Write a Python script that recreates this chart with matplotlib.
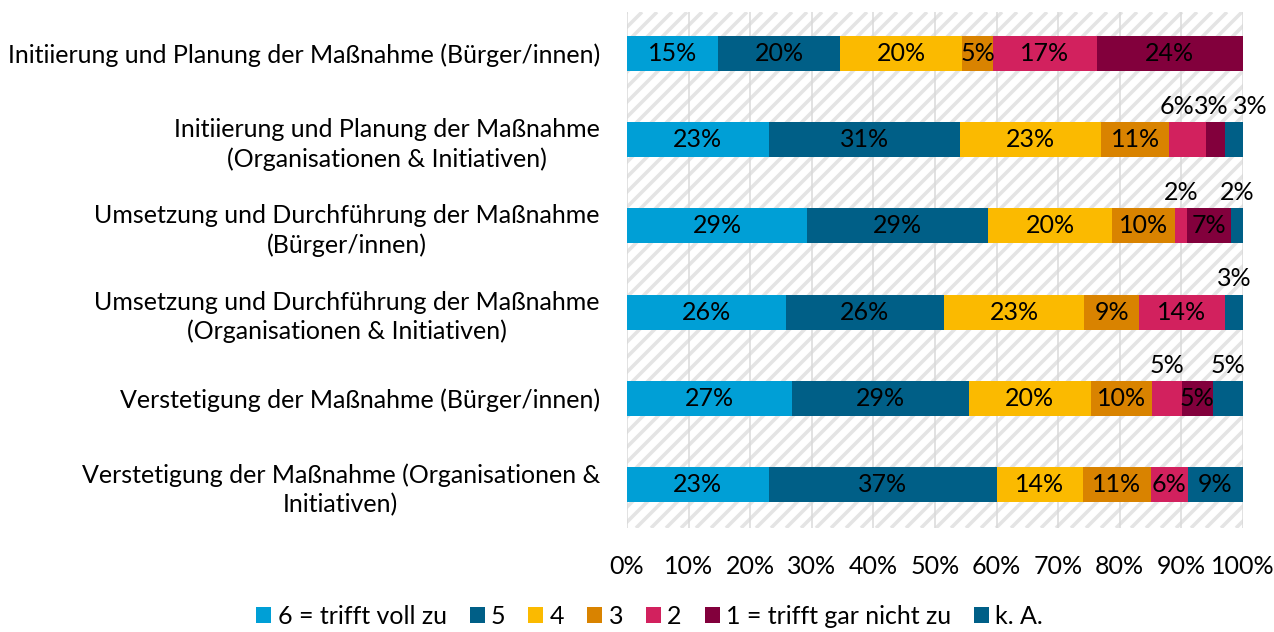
import numpy as np
import matplotlib
matplotlib.use("Agg")
import matplotlib.pyplot as plt

plt.rcParams['font.family'] = ['Lato', 'DejaVu Sans']

rows = ['Initiierung und Planung der Maßnahme (Bürger/innen)',
        'Initiierung und Planung der Maßnahme\n(Organisationen & Initiativen)',
        'Umsetzung und Durchführung der Maßnahme\n(Bürger/innen)',
        'Umsetzung und Durchführung der Maßnahme\n(Organisationen & Initiativen)',
        'Verstetigung der Maßnahme (Bürger/innen)',
        'Verstetigung der Maßnahme (Organisationen &\nInitiativen)']
answers = ['6 = trifft voll zu', '5', '4', '3', '2', '1 = trifft gar nicht zu', 'k. A.']

# percent per row, in answer order
r1 = [15, 20, 20, 5, 17, 24, 0]
r2 = [23, 31, 23, 11, 6, 3, 3]
r3 = [29, 29, 20, 10, 2, 7, 2]
r4 = [26, 26, 23, 9, 14, 0, 3]
r5 = [27, 29, 20, 10, 5, 5, 5]
r6 = [23, 37, 14, 11, 6, 0, 9]
data = np.array([r1, r2, r3, r4, r5, r6], dtype=float)

colors = ['#009FD6', '#005F87', '#FBBA00', '#D98300', '#D2215E', '#82003C', '#005F87']

# labels drawn above the bar: (row, segment) -> x offset in pixels
above = {(1, 4): -11, (1, 5): -4, (1, 6): 17,
         (2, 4): 0, (2, 6): 0,
         (3, 6): 0,
         (4, 4): 0, (4, 6): 0}

FS = 25
W, H = 1274, 632
AX_L, AX_R, AX_T, AX_B = 627, 1243, 12, 528
aw, ah = AX_R - AX_L, AX_B - AX_T
fig = plt.figure(figsize=(W / 72, H / 72), dpi=72)
ax = fig.add_axes([AX_L / W, 1 - AX_B / H, aw / W, ah / H])

# diagonal stripes in the plot area (45 deg in pixels)
for k in range(-ah, aw, 15):
    ax.plot([k / aw, (k + ah) / aw], [0, 1], transform=ax.transAxes,
            color='#E4E4E4', lw=3.5, solid_capstyle='butt', zorder=0)
for g in range(0, 101, 10):
    ax.axvline(g, color='#D9D9D9', lw=1.5, zorder=1)

shares = data / data.sum(axis=1, keepdims=True) * 100
y = np.arange(len(rows))
left = np.zeros(len(rows))
bars = []
for j, ans in enumerate(answers):
    b = ax.barh(y, shares[:, j], left=left, height=0.405, color=colors[j],
                label=ans, zorder=2)
    bars.append(b)
    for i in range(len(rows)):
        v = data[i, j]
        if v == 0:
            continue
        cx = left[i] + shares[i, j] / 2
        if (i, j) in above:
            dx = above[(i, j)] / aw * 100
            ax.text(cx + dx, y[i] - 0.385, f'{int(v)}%', ha='center', va='center',
                    fontsize=FS, color='black', zorder=3)
        else:
            ax.text(cx, y[i], f'{int(v)}%', ha='center', va='center',
                    fontsize=FS, color='black', zorder=3)
    left += shares[:, j]

ax.set_xlim(0, 100)
ax.set_ylim(5.5, -0.475)
ax.set_xticks(range(0, 101, 10))
ax.set_xticklabels([f'{t}%' for t in range(0, 101, 10)], fontsize=FS)
ax.set_yticks(y)
ax.set_yticklabels(rows, fontsize=FS, multialignment='center', linespacing=1.3)
ax.tick_params(length=0, pad=27)
ax.tick_params(axis='x', pad=27)
for s in ax.spines.values():
    s.set_visible(False)

fig.legend(handles=bars, labels=answers, loc='center', bbox_to_anchor=(0.51, 1 - 616 / H),
           ncol=7, frameon=False, fontsize=FS, handlelength=0.6, handleheight=0.6,
           handletextpad=0.25, columnspacing=0.92)

fig.savefig('out.png', dpi=72)
